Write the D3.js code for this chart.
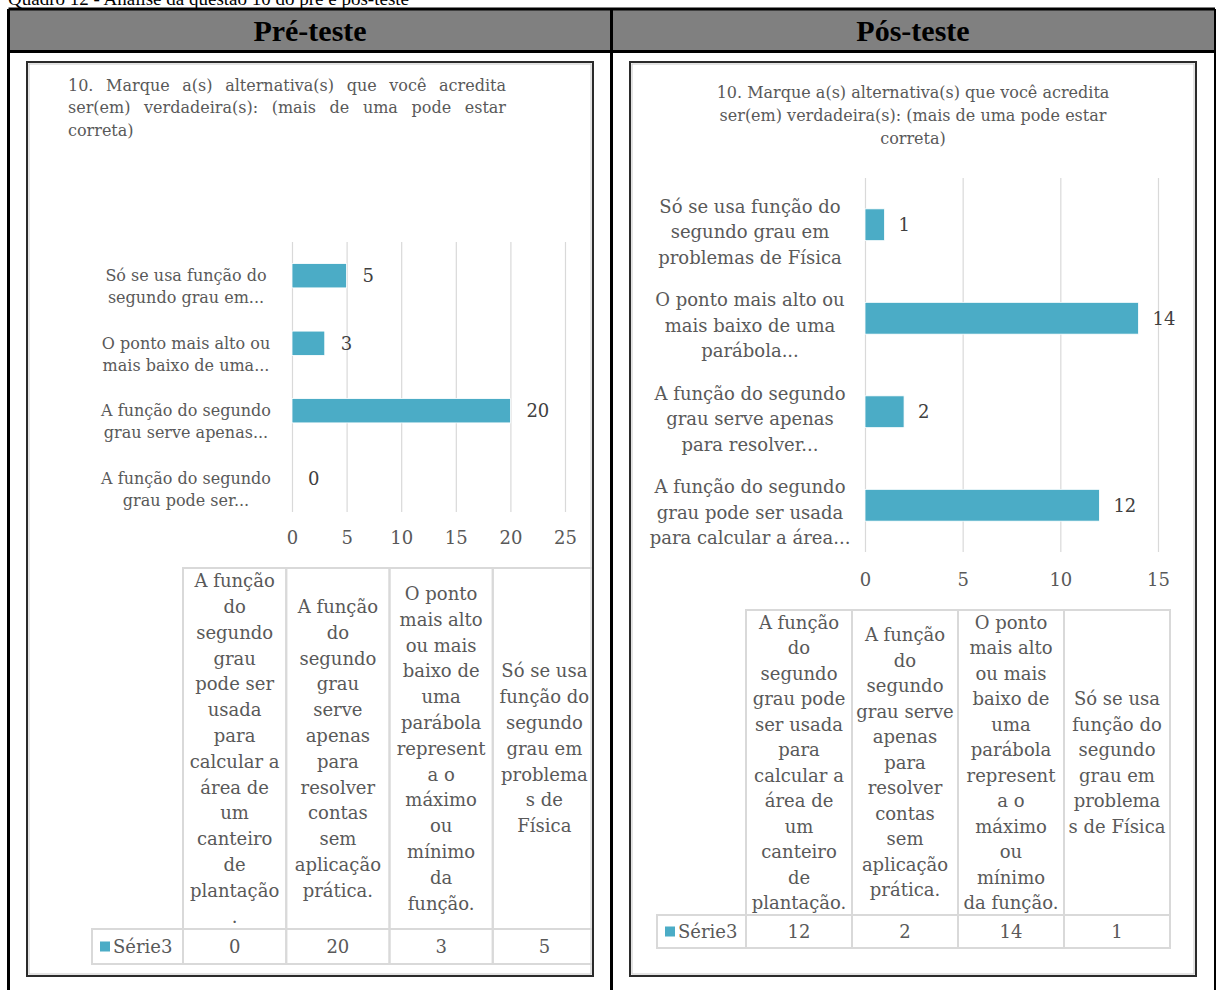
<!DOCTYPE html>
<html>
<head>
<meta charset="utf-8">
<script src="https://cdn.jsdelivr.net/npm/d3@7"></script>
<style>
	body { margin: 0; background: #fff; }
	svg { display: block; }
</style>
</head>
<body>
<svg id="chart" width="1216" height="990"></svg>
<script>
// DATA
let caption = 'Quadro 12 - Análise da questão 10 do pré e pós-teste';
let panelHeaders = ['Pré-teste', 'Pós-teste'];
let seriesName = 'Série3';

let titleLines = [
	'10. Marque a(s) alternativa(s) que você acredita',
	'ser(em) verdadeira(s): (mais de uma pode estar',
	'correta)'
];

let categories = [
	'A função do segundo grau pode ser usada para calcular a área de um canteiro de plantação.',
	'A função do segundo grau serve apenas para resolver contas sem aplicação prática.',
	'O ponto mais alto ou mais baixo de uma parábola representa o máximo ou mínimo da função.',
	'Só se usa função do segundo grau em problemas de Física'
];

let preValues = [0, 20, 3, 5];
let postValues = [12, 2, 14, 1];

let preTicks = [0, 5, 10, 15, 20, 25];
let postTicks = [0, 5, 10, 15];

let preAxisLabels = [
	['A função do segundo', 'grau pode ser...'],
	['A função do segundo', 'grau serve apenas...'],
	['O ponto mais alto ou', 'mais baixo de uma...'],
	['Só se usa função do', 'segundo grau em...']
];
let postAxisLabels = [
	['A função do segundo', 'grau pode ser usada', 'para calcular a área...'],
	['A função do segundo', 'grau serve apenas', 'para resolver...'],
	['O ponto mais alto ou', 'mais baixo de uma', 'parábola...'],
	['Só se usa função do', 'segundo grau em', 'problemas de Física']
];

let preTableHeaders = [
	['A função', 'do', 'segundo', 'grau', 'pode ser', 'usada', 'para', 'calcular a', 'área de', 'um', 'canteiro', 'de', 'plantação', '.'],
	['A função', 'do', 'segundo', 'grau', 'serve', 'apenas', 'para', 'resolver', 'contas', 'sem', 'aplicação', 'prática.'],
	['O ponto', 'mais alto', 'ou mais', 'baixo de', 'uma', 'parábola', 'represent', 'a o', 'máximo', 'ou', 'mínimo', 'da', 'função.'],
	['Só se usa', 'função do', 'segundo', 'grau em', 'problema', 's de', 'Física']
];
let postTableHeaders = [
	['A função', 'do', 'segundo', 'grau pode', 'ser usada', 'para', 'calcular a', 'área de', 'um', 'canteiro', 'de', 'plantação.'],
	['A função', 'do', 'segundo', 'grau serve', 'apenas', 'para', 'resolver', 'contas', 'sem', 'aplicação', 'prática.'],
	['O ponto', 'mais alto', 'ou mais', 'baixo de', 'uma', 'parábola', 'represent', 'a o', 'máximo', 'ou', 'mínimo', 'da função.'],
	['Só se usa', 'função do', 'segundo', 'grau em', 'problema', 's de Física']
];

// LAYOUT
let serif = "'DejaVu Serif', serif";
let times = "'Liberation Serif', 'Times New Roman', serif";
let barColor = '#4bacc6';
let textColor = '#595959';

let svg = d3.select('#chart');

// outer frame of the "Quadro"
svg.append('text')
	.attr('x', 8)
	.attr('y', 5)
	.style('font-family', times)
	.style('font-size', '19px')
	.text(caption);

svg.append('rect')
	.attr('x', 9).attr('y', 9)
	.attr('width', 1206).attr('height', 42)
	.attr('fill', '#808080');

let frame = [
	[8.5, 9, 1215, 9, 3],
	[8.5, 51.5, 1215, 51.5, 3],
	[8.5, 9, 8.5, 990, 3],
	[611.5, 9, 611.5, 990, 3],
	[1215, 9, 1215, 990, 2]
];
svg.selectAll('line.frame')
	.data(frame)
	.enter()
	.append('line')
	.attr('class', 'frame')
	.attr('x1', d => d[0]).attr('y1', d => d[1])
	.attr('x2', d => d[2]).attr('y2', d => d[3])
	.attr('stroke', '#000')
	.attr('stroke-width', d => d[4]);

svg.selectAll('text.head')
	.data(panelHeaders)
	.enter()
	.append('text')
	.attr('class', 'head')
	.attr('x', (d, i) => i === 0 ? 310 : 913)
	.attr('y', 30)
	.attr('dy', '0.35em')
	.attr('text-anchor', 'middle')
	.style('font-family', times)
	.style('font-weight', 'bold')
	.style('font-size', '30px')
	.text(d => d);

function drawPanel(p) {
	let g = svg.append('g');
	let b = p.box;

	g.append('clipPath').attr('id', p.id + '-clip')
		.append('rect')
		.attr('x', b.x + 1).attr('y', b.y + 1)
		.attr('width', b.w - 2).attr('height', b.h - 2);

	g.append('rect')
		.attr('x', b.x).attr('y', b.y)
		.attr('width', b.w).attr('height', b.h)
		.attr('fill', '#fff')
		.attr('stroke', '#2b2b2b')
		.attr('stroke-width', 2);
	g.append('rect')
		.attr('x', b.x + 2).attr('y', b.y + 2)
		.attr('width', b.w - 4).attr('height', b.h - 4)
		.attr('fill', 'none')
		.attr('stroke', '#c8c8c8')
		.attr('stroke-width', 1);

	let inner = g.append('g').attr('clip-path', 'url(#' + p.id + '-clip)');

	// title
	let t = inner.append('g')
		.style('font-family', serif)
		.style('font-size', p.titleSize + 'px')
		.attr('fill', textColor);
	titleLines.forEach(function(line, i) {
		let el = t.append('text')
			.attr('y', p.titleY + i * p.titleLh)
			.attr('dy', '0.35em')
			.text(line);
		if (p.titleAlign === 'justify') {
			el.attr('x', p.titleX0);
			if (i < titleLines.length - 1) {
				// justify by widening the spaces only
				let natural = el.node().getComputedTextLength();
				let gaps = line.split(' ').length - 1;
				el.style('word-spacing', Math.max(0, (p.titleX1 - p.titleX0 - natural) / gaps) + 'px');
			}
		} else {
			el.attr('x', p.titleX).attr('text-anchor', 'middle');
		}
	});

	// scales
	let x = d3.scaleLinear()
		.domain([0, d3.max(p.ticks)])
		.range([p.plot.x0, p.plot.x1]);

	let y = d3.scaleBand()
		.domain(categories.slice().reverse())
		.range([p.plot.y0, p.plot.y1])
		.paddingInner(p.pad)
		.paddingOuter(p.pad / 2);

	// gridlines + tick labels
	let axis = d3.axisBottom(x)
		.tickValues(p.ticks)
		.tickSize(-(p.plot.y1 - p.plot.y0))
		.tickFormat(d3.format('d'));

	let ax = inner.append('g')
		.attr('transform', 'translate(0,' + p.plot.y1 + ')')
		.call(axis);
	ax.select('.domain').remove();
	ax.selectAll('line').attr('stroke', '#d9d9d9').attr('stroke-width', 1.2);
	ax.selectAll('text')
		.attr('y', p.tickY - p.plot.y1)
		.attr('dy', '0.35em')
		.attr('fill', textColor)
		.style('font-family', serif)
		.style('font-size', p.tickSize + 'px');

	// bars
	inner.selectAll('rect.bar')
		.data(p.values)
		.enter()
		.append('rect')
		.attr('class', 'bar')
		.attr('x', x(0))
		.attr('y', (d, i) => y(categories[i]))
		.attr('width', d => x(d) - x(0))
		.attr('height', y.bandwidth())
		.attr('fill', barColor)
		.attr('stroke', '#fff')
		.attr('stroke-width', 0.8);

	// value labels
	inner.selectAll('text.val')
		.data(p.values)
		.enter()
		.append('text')
		.attr('class', 'val')
		.attr('x', d => x(d) + p.valGap)
		.attr('y', (d, i) => y(categories[i]) + y.bandwidth() / 2)
		.attr('dy', '0.35em')
		.attr('fill', '#404040')
		.style('font-family', serif)
		.style('font-size', p.tickSize + 'px')
		.text(d => d);

	// category labels
	p.axisLabels.forEach(function(lines, i) {
		let cy = y(categories[i]) + y.bandwidth() / 2 + p.labelShift;
		let n = lines.length;
		lines.forEach(function(line, j) {
			inner.append('text')
				.attr('x', p.labelX)
				.attr('y', cy + (j - (n - 1) / 2) * p.labelLh)
				.attr('dy', '0.35em')
				.attr('text-anchor', 'middle')
				.attr('fill', textColor)
				.style('font-family', serif)
				.style('font-size', p.labelSize + 'px')
				.text(line);
		});
	});

	// data table
	let tb = p.table;
	let col = d3.scaleBand()
		.domain(categories)
		.range([tb.x0, tb.x1]);

	let cells = inner.append('g')
		.attr('fill', 'none')
		.attr('stroke', '#d9d9d9')
		.attr('stroke-width', 2);
	categories.forEach(function(c) {
		cells.append('rect')
			.attr('x', col(c)).attr('y', tb.y0)
			.attr('width', col.bandwidth()).attr('height', tb.y1 - tb.y0);
		cells.append('rect')
			.attr('x', col(c)).attr('y', tb.y1)
			.attr('width', col.bandwidth()).attr('height', tb.y2 - tb.y1);
	});
	cells.append('rect')
		.attr('x', tb.legendX).attr('y', tb.y1)
		.attr('width', tb.x0 - tb.legendX).attr('height', tb.y2 - tb.y1);

	let headMid = (tb.y0 + tb.y1) / 2;
	p.tableHeaders.forEach(function(lines, i) {
		let n = lines.length;
		lines.forEach(function(line, j) {
			inner.append('text')
				.attr('x', col(categories[i]) + col.bandwidth() / 2)
				.attr('y', headMid + (j - (n - 1) / 2) * tb.lh)
				.attr('dy', '0.35em')
				.attr('text-anchor', 'middle')
				.attr('fill', textColor)
				.style('font-family', serif)
				.style('font-size', tb.size + 'px')
				.text(line);
		});
	});

	let rowMid = (tb.y1 + tb.y2) / 2;
	inner.selectAll('text.cell')
		.data(p.values)
		.enter()
		.append('text')
		.attr('class', 'cell')
		.attr('x', (d, i) => col(categories[i]) + col.bandwidth() / 2)
		.attr('y', rowMid)
		.attr('dy', '0.35em')
		.attr('text-anchor', 'middle')
		.attr('fill', textColor)
		.style('font-family', serif)
		.style('font-size', tb.size + 'px')
		.text(d => d);

	inner.append('rect')
		.attr('x', tb.legendX + 8).attr('y', rowMid - 5)
		.attr('width', 10).attr('height', 10)
		.attr('fill', barColor);
	inner.append('text')
		.attr('x', tb.legendX + 21)
		.attr('y', rowMid)
		.attr('dy', '0.35em')
		.attr('fill', textColor)
		.style('font-family', serif)
		.style('font-size', tb.size + 'px')
		.text(seriesName);
}

drawPanel({
	id: 'pre',
	values: preValues,
	ticks: preTicks,
	axisLabels: preAxisLabels,
	tableHeaders: preTableHeaders,
	box: { x: 27, y: 62, w: 566, h: 914 },
	titleAlign: 'justify', titleX0: 68, titleX1: 506, titleY: 85, titleLh: 22.5, titleSize: 16,
	plot: { x0: 292, x1: 565, y0: 242, y1: 512 },
	pad: 0.64,
	tickY: 538, tickSize: 18,
	valGap: 16,
	labelX: 186, labelSize: 16, labelLh: 22, labelShift: 11,
	table: { x0: 183, x1: 596, y0: 568, y1: 929, y2: 964, legendX: 92, lh: 25.8, size: 18 }
});

drawPanel({
	id: 'post',
	values: postValues,
	ticks: postTicks,
	axisLabels: postAxisLabels,
	tableHeaders: postTableHeaders,
	box: { x: 630, y: 62, w: 566, h: 914 },
	titleAlign: 'center', titleX: 913, titleY: 92, titleLh: 23, titleSize: 16,
	plot: { x0: 865, x1: 1158, y0: 178, y1: 552 },
	pad: 0.66,
	tickY: 580, tickSize: 18,
	valGap: 14,
	labelX: 750, labelSize: 18, labelLh: 25.5, labelShift: 7,
	table: { x0: 746, x1: 1170, y0: 610, y1: 915, y2: 948, legendX: 657, lh: 25.5, size: 18 }
});
</script>
</body>
</html>
